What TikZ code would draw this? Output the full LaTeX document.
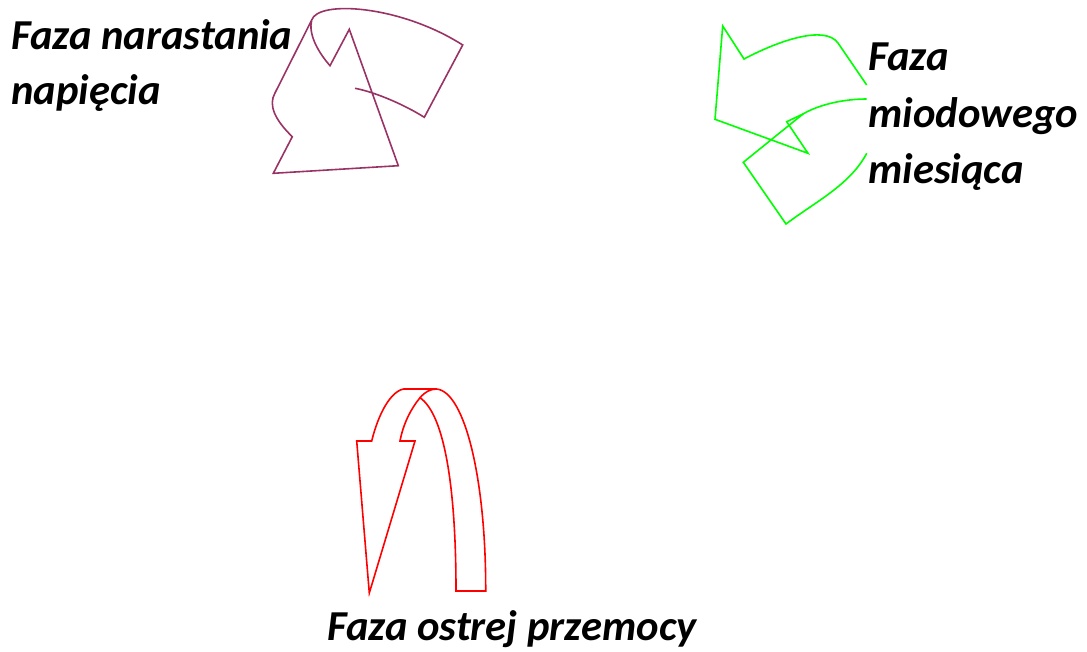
\documentclass[tikz,border=0pt]{standalone}
\usepackage{fontspec}
\setmainfont{Carlito}
\definecolor{fiolet}{HTML}{993366}
\definecolor{zielony}{HTML}{00FF00}
\tikzset{
	faza/.style={font=\fontsize{32}{41}\selectfont\bfseries\itshape,align=left,inner sep=0,anchor=north west},
	strzalka/.style={line width=1.2pt,line join=miter}
}
\begin{document}
\begin{tikzpicture}[x=0.75pt,y=-0.75pt]

\useasboundingbox (0,0) rectangle (1087,651);

% Faza narastania:
\draw[strzalka,fiolet] (311.7,20) -- (275,93) .. controls (268,105) and (275,120) .. (292.3,136.7)
	-- (273.3,173.3) -- (398.3,165.7) -- (349.3,29.3) -- (330,65.7)
	.. controls (318,52) and (308,34) .. (311.7,20)
	.. controls (318,0) and (400,5) .. (462.7,45) -- (424.3,117.3)
	.. controls (405,105) and (375,92) .. (355,88.3);
\node[faza] (narastanie) at (11,19.5) {Faza narastania\\napięcia};

% Faza miodowego miesiaca:
\draw[strzalka,zielony] (866.7,85) -- (838,43) .. controls (825,25) and (780,40) .. (744,59)
	-- (722.7,26) -- (715,119.3) -- (808,153.3) -- (786.7,121.7) -- (803,114)
	.. controls (820,104) and (845,99) .. (866.7,99);
\draw[strzalka,zielony] (803,114) -- (743.3,162.3) -- (786,224)
	.. controls (815,202) and (850,185) .. (866.7,153.3);
\node[faza,font=\fontsize{32}{42.5}\selectfont\bfseries\itshape] (miodowy) at (868,42.5) {Faza\\miodowego\\miesiąca};

% Faza ostrej przemocy:
\draw[strzalka,red] (403.3,389) -- (436.7,389) .. controls (465,392) and (486,480) .. (485.7,591)
	-- (456,591) .. controls (456,490) and (445,415) .. (420,397.7)
	.. controls (410,410) and (403,425) .. (400,441) -- (415,441) -- (369.3,593)
	-- (356.7,441) -- (371.7,441) .. controls (378,415) and (390,392) .. (403.3,389);
\draw[strzalka,red] (420,397.7) .. controls (425,392) and (430,389) .. (436.7,389);
\node[faza] (przemoc) at (327,610.5) {Faza ostrej przemocy};

\end{tikzpicture}
\end{document}
